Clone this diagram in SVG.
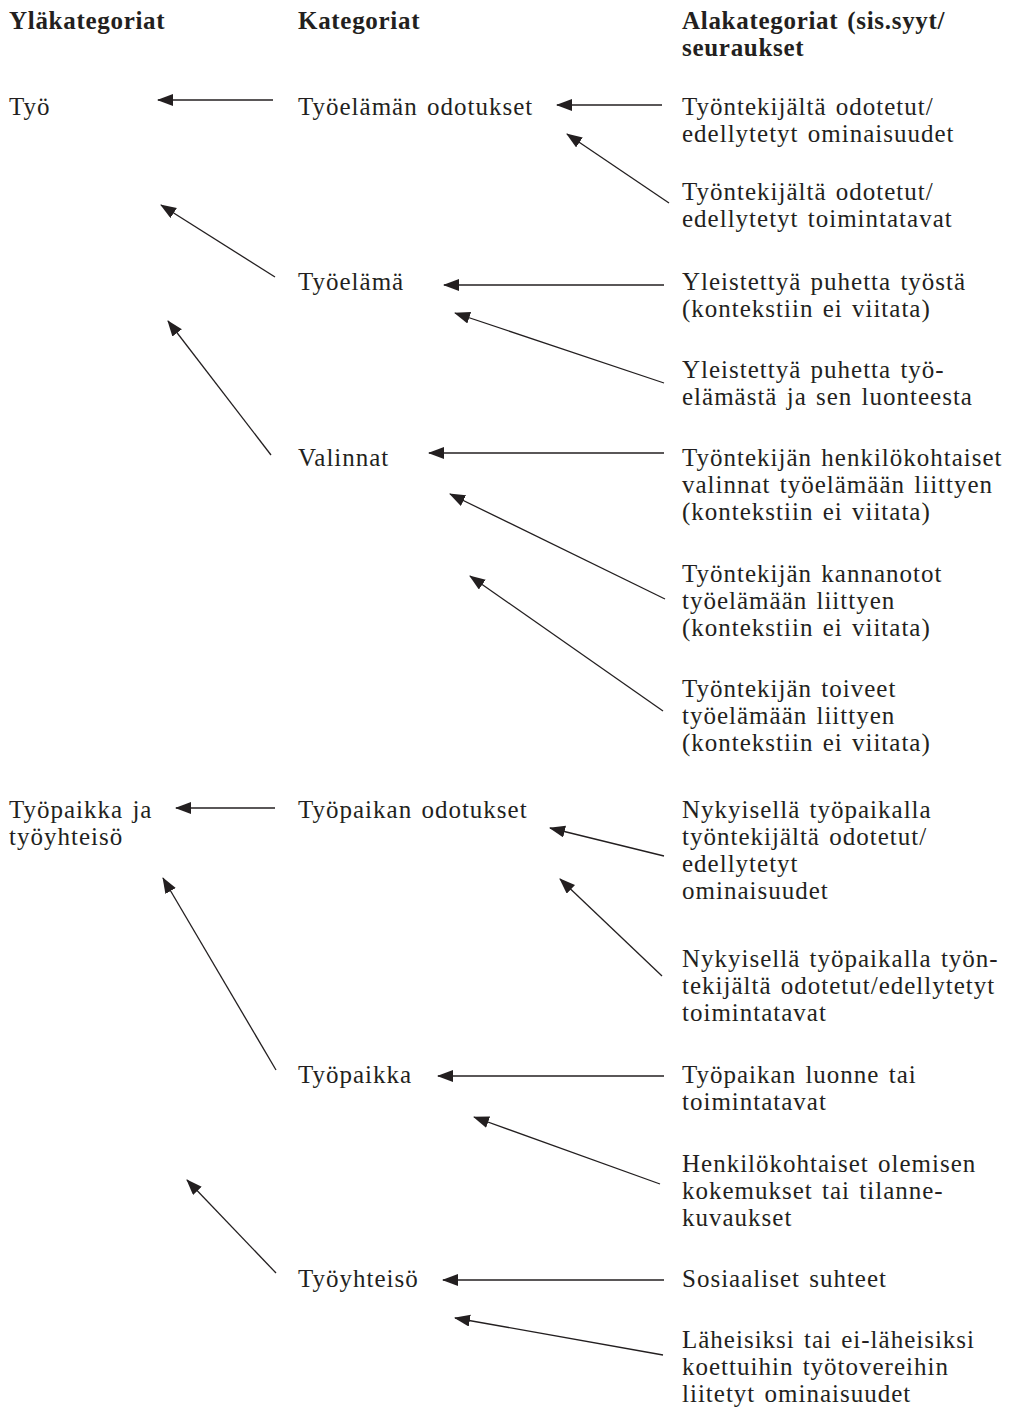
<svg xmlns="http://www.w3.org/2000/svg" width="1017" height="1411" viewBox="0 0 1017 1411">
  <style>
    text { font-family: "Liberation Serif", "DejaVu Serif", serif; font-size: 25px; letter-spacing: 1px; word-spacing: 2px; fill: #231f20; }
    .h { font-weight: bold; letter-spacing: 0.7px; }
    .c line { stroke: #231f20; stroke-width: 1.3; fill: none; marker-end: url(#ah); }
  </style>
  <defs>
    <marker id="ah" markerUnits="userSpaceOnUse" markerWidth="18" markerHeight="14" refX="15" refY="6" orient="auto">
      <path d="M0,0 L16,6 L0,12 Z" fill="#231f20"/>
    </marker>
  </defs>
  <rect width="1017" height="1411" fill="#ffffff"/>

  <!-- column headings -->
  <g id="headings">
    <text class="h" x="9" y="29">Yläkategoriat</text>
    <text class="h" x="298" y="29">Kategoriat</text>
    <text class="h" x="682" y="29">Alakategoriat (sis.syyt/</text>
    <text class="h" x="682" y="56">seuraukset</text>
  </g>

  <!-- upper categories -->
  <g id="tyo"><text x="9" y="115">Työ</text></g>
  <g id="tyopaikka-ja-tyoyhteiso">
    <text x="9" y="818">Työpaikka ja</text>
    <text x="9" y="845">työyhteisö</text>
  </g>

  <!-- categories -->
  <g id="tyoelaman-odotukset"><text x="298" y="115">Työelämän odotukset</text></g>
  <g id="tyoelama"><text x="298" y="290">Työelämä</text></g>
  <g id="valinnat"><text x="298" y="466">Valinnat</text></g>
  <g id="tyopaikan-odotukset"><text x="298" y="818">Työpaikan odotukset</text></g>
  <g id="tyopaikka"><text x="298" y="1083">Työpaikka</text></g>
  <g id="tyoyhteiso"><text x="298" y="1287">Työyhteisö</text></g>

  <!-- subcategories -->
  <g id="sub-ominaisuudet">
    <text x="682" y="115">Työntekijältä odotetut/</text>
    <text x="682" y="142">edellytetyt ominaisuudet</text>
  </g>
  <g id="sub-toimintatavat">
    <text x="682" y="200">Työntekijältä odotetut/</text>
    <text x="682" y="227">edellytetyt toimintatavat</text>
  </g>
  <g id="sub-puhe-tyosta">
    <text x="682" y="290">Yleistettyä puhetta työstä</text>
    <text x="682" y="317">(kontekstiin ei viitata)</text>
  </g>
  <g id="sub-puhe-tyoelamasta">
    <text x="682" y="378">Yleistettyä puhetta työ-</text>
    <text x="682" y="405">elämästä ja sen luonteesta</text>
  </g>
  <g id="sub-valinnat">
    <text x="682" y="466">Työntekijän henkilökohtaiset</text>
    <text x="682" y="493">valinnat työelämään liittyen</text>
    <text x="682" y="520">(kontekstiin ei viitata)</text>
  </g>
  <g id="sub-kannanotot">
    <text x="682" y="582">Työntekijän kannanotot</text>
    <text x="682" y="609">työelämään liittyen</text>
    <text x="682" y="636">(kontekstiin ei viitata)</text>
  </g>
  <g id="sub-toiveet">
    <text x="682" y="697">Työntekijän toiveet</text>
    <text x="682" y="724">työelämään liittyen</text>
    <text x="682" y="751">(kontekstiin ei viitata)</text>
  </g>
  <g id="sub-nyk-ominaisuudet">
    <text x="682" y="818">Nykyisellä työpaikalla</text>
    <text x="682" y="845">työntekijältä odotetut/</text>
    <text x="682" y="872">edellytetyt</text>
    <text x="682" y="899">ominaisuudet</text>
  </g>
  <g id="sub-nyk-toimintatavat">
    <text x="682" y="967">Nykyisellä työpaikalla työn-</text>
    <text x="682" y="994">tekijältä odotetut/edellytetyt</text>
    <text x="682" y="1021">toimintatavat</text>
  </g>
  <g id="sub-luonne">
    <text x="682" y="1083">Työpaikan luonne tai</text>
    <text x="682" y="1110">toimintatavat</text>
  </g>
  <g id="sub-kokemukset">
    <text x="682" y="1172">Henkilökohtaiset olemisen</text>
    <text x="682" y="1199">kokemukset tai tilanne-</text>
    <text x="682" y="1226">kuvaukset</text>
  </g>
  <g id="sub-suhteet">
    <text x="682" y="1287">Sosiaaliset suhteet</text>
  </g>
  <g id="sub-tyotoverit">
    <text x="682" y="1348">Läheisiksi tai ei-läheisiksi</text>
    <text x="682" y="1375">koettuihin työtovereihin</text>
    <text x="682" y="1402">liitetyt ominaisuudet</text>
  </g>

  <!-- connectors -->
  <g id="connectors" class="c">
    <line x1="273" y1="100" x2="158" y2="100"/>
    <line x1="662" y1="105" x2="557" y2="105"/>
    <line x1="669" y1="203" x2="567" y2="134"/>
    <line x1="275" y1="277" x2="161" y2="205"/>
    <line x1="664" y1="285" x2="444" y2="285"/>
    <line x1="664" y1="383" x2="455" y2="313"/>
    <line x1="271" y1="455" x2="168" y2="321"/>
    <line x1="664" y1="453" x2="429" y2="453"/>
    <line x1="665" y1="599" x2="450" y2="494"/>
    <line x1="663" y1="711" x2="470" y2="576"/>
    <line x1="275" y1="808" x2="176" y2="808"/>
    <line x1="664" y1="856" x2="550" y2="828"/>
    <line x1="662" y1="976" x2="560" y2="879"/>
    <line x1="276" y1="1070" x2="163" y2="878"/>
    <line x1="664" y1="1076" x2="438" y2="1076"/>
    <line x1="660" y1="1184" x2="474" y2="1117"/>
    <line x1="276" y1="1273" x2="187" y2="1180"/>
    <line x1="664" y1="1280" x2="443" y2="1280"/>
    <line x1="663" y1="1355" x2="455" y2="1318"/>
  </g>
</svg>
